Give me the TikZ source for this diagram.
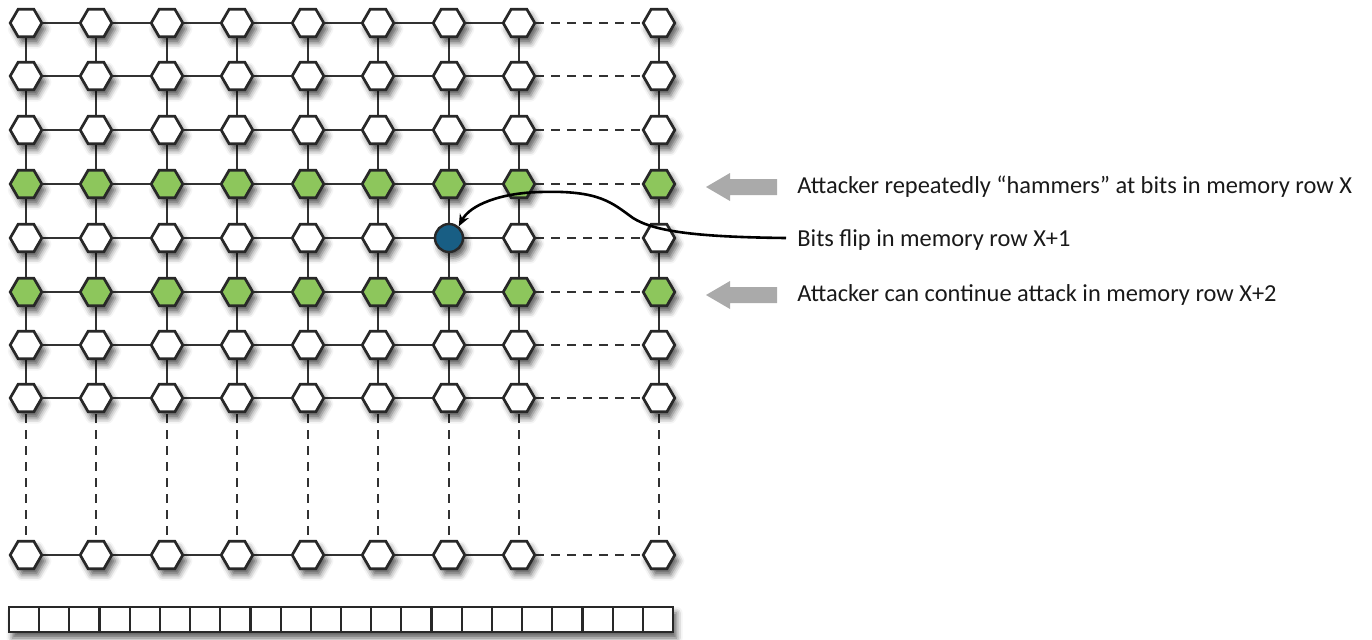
\documentclass[tikz,border=0pt]{standalone}
\usepackage{fontspec}
\setmainfont{Carlito}
\usetikzlibrary{shapes.geometric,shadows.blur,arrows.meta}
\definecolor{cellgreen}{RGB}{141,198,92}
\definecolor{flipblue}{RGB}{24,94,132}
\definecolor{edgegray}{RGB}{40,40,40}
\definecolor{linkgray}{RGB}{50,50,50}
\definecolor{pointergray}{RGB}{170,170,170}
\definecolor{labeltext}{RGB}{25,25,25}
\begin{document}
\begin{tikzpicture}[x=0.5pt,y=-0.5pt,
  softshadow/.style={blur shadow={shadow xshift=1.8pt,shadow yshift=-3pt,
      shadow blur radius=3pt,shadow opacity=65}},
  cell/.style={regular polygon,regular polygon sides=6,minimum size=15.8pt,
      inner sep=0pt,draw=edgegray,line width=1.35pt,fill=white,softshadow},
  greencell/.style={cell,fill=cellgreen},
  flipbit/.style={circle,minimum size=14pt,inner sep=0pt,draw=edgegray,
      line width=1.2pt,fill=flipblue,softshadow},
  link/.style={draw=linkgray,line width=1.2pt},
  gap/.style={link,dash pattern=on 4.5pt off 3.5pt},
  pointer/.style={fill=pointergray},
  label/.style={anchor=west,inner sep=0pt,text=labeltext,
      font=\fontsize{12.2}{14}\selectfont},
  memcell/.style={draw=edgegray,line width=1.1pt,fill=white}]
\useasboundingbox (0,0) rectangle (1372,639);

% grid positions: 9 bit lines x 9 word lines
\foreach \x [count=\i] in {26,96,167,237,308,378,449,519,659}{
  \foreach \y [count=\j] in {23,76,130,184,238,292,345,398,555}{
    \coordinate (c-\i-\j) at (\x,\y);
  }
}

% word lines (horizontal) and bit lines (vertical)
\foreach \j in {1,...,9}{
  \foreach \i [count=\k from 2] in {1,...,7}{
    \draw[link] (c-\i-\j) -- (c-\k-\j);
  }
  \draw[gap] (c-8-\j) -- (c-9-\j);
}
\foreach \i in {1,...,9}{
  \foreach \j [count=\k from 2] in {1,...,7}{
    \draw[link] (c-\i-\j) -- (c-\i-\k);
  }
  \draw[gap] (c-\i-8) -- (c-\i-9);
}

% memory cells on top of the lines
\foreach \i in {1,...,9}{
  \foreach \j in {1,...,9}{
    \def\sty{cell}
    \ifnum\j=4 \def\sty{greencell}\fi
    \ifnum\j=6 \def\sty{greencell}\fi
    \ifnum\i=7 \ifnum\j=5 \def\sty{flipbit}\fi\fi
    \node[\sty] (n-\i-\j) at (c-\i-\j) {};
  }
}

% row buffer
\path[fill=white,softshadow] (9,607) rectangle (673,632);
\foreach \c in {0,...,21}{
  \draw[memcell] ({9+\c*664/22},607) rectangle ({9+(\c+1)*664/22},632);
}

% labels
\node[label] (hammer) at (797,187) {Attacker repeatedly “hammers” at bits in memory row X};
\node[label] (flip) at (797,240) {Bits flip in memory row X+1};
\node[label] (cont) at (797,295) {Attacker can continue attack in memory row X+2};

% grey block arrows
\foreach \yc in {187,295}{
  \fill[pointer] (777,\yc-8) -- (730,\yc-8) -- (730,\yc-14) -- (706,\yc)
     -- (730,\yc+14) -- (730,\yc+8) -- (777,\yc+8) -- cycle;
}

% pointer to the flipped bit
\coordinate (flipsrc) at (786,238);
\draw[line width=1.3pt,black,-{Stealth[length=6pt,width=5pt]}]
  (flipsrc) .. controls (700,237) and (655,232) .. (633,218)
  .. controls (612,203) and (600,190) .. (540,192)
  .. controls (500,193) and (470,205) .. (n-7-5.50);
\end{tikzpicture}
\end{document}
